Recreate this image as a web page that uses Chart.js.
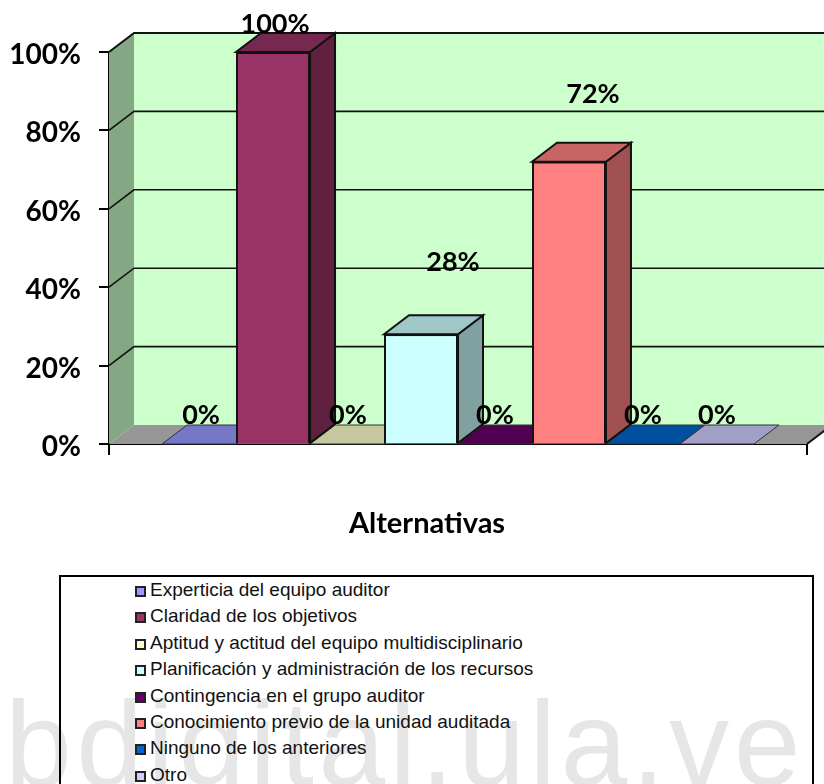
<!DOCTYPE html>
<html lang="es">
<head>
<meta charset="UTF-8">
<title>Alternativas</title>
<style>
    html, body { margin: 0; height: 100%; background: #fff; overflow: hidden; }
    #wrap { position: relative; width: 824px; height: 784px; overflow: hidden; }
    #mark {
        position: absolute; left: 5px; top: 663px; white-space: nowrap;
        font-family: "Liberation Sans", Arial, sans-serif; font-size: 120px; line-height: 160px;
        letter-spacing: 4.4px; color: #e6e6e6;
    }
    canvas { position: absolute; left: 0; top: 0; }
    #legend {
        position: absolute; left: 59px; top: 575px; width: 751px; height: 240px;
        border: 2px solid #000; box-sizing: content-box;
        font-family: "Liberation Sans", Arial, sans-serif; font-size: 19px; color: #111;
    }
    #legend div { position: absolute; left: 74px; height: 20px; line-height: 20px; white-space: nowrap; }
    #legend i {
        display: inline-block; width: 7px; height: 7px; border: 2.5px solid #222;
        margin-right: 4px; vertical-align: -1px;
    }
</style>
</head>
<body>
<div id="wrap">
    <div id="mark">bdigital.ula.ve</div>
    <canvas id="chart" width="824" height="570"></canvas>
    <div id="legend"></div>
</div>
<script src="https://cdn.jsdelivr.net/npm/chart.js"></script>
<script>
const seriesNames = ['Experticia del equipo auditor', 'Claridad de los objetivos', 'Aptitud y actitud del equipo multidisciplinario',
    'Planificación y administración de los recursos', 'Contingencia en el grupo auditor', 'Conocimiento previo de la unidad auditada',
    'Ninguno de los anteriores', 'Otro'];
const seriesValues = [0, 100, 0, 28, 0, 72, 0, 0];
const seriesColors = ['#9999ff', '#993366', '#ffffcc', '#ccffff', '#660066', '#ff8080', '#0066cc', '#ccccff'];
const categories = ['Alternativas'];
const labelShift = [[2, 0], [2, 0], [1, 0], [32, -44], [0, 0], [24, -40], [0, 0], [0, 0]];

const depthX = 25, depthY = 19;

function shade(hex, f) {
    const n = parseInt(hex.slice(1), 16);
    return 'rgb(' + Math.round((n >> 16) * f) + ',' + Math.round(((n >> 8) & 255) * f) + ',' + Math.round((n & 255) * f) + ')';
}

function poly(ctx, pts, fill, stroke, lw) {
    ctx.beginPath();
    pts.forEach((p, i) => i ? ctx.lineTo(p[0], p[1]) : ctx.moveTo(p[0], p[1]));
    ctx.closePath();
    ctx.fillStyle = fill;
    ctx.fill();
    if (stroke) {
        ctx.strokeStyle = stroke;
        ctx.lineWidth = lw;
        ctx.stroke();
    }
}

// the 3D box: walls and floor behind the bars, sides and tops from each bar element
const box3d = {
    id: 'box3d',
    beforeDraw(chart) {
        // tick labels sit a little under their ticks in the original
        chart.scales.y.getLabelItems().forEach(item => { item.options.translation[1] += 3; });
    },
    beforeDatasetsDraw(chart) {
        const ctx = chart.ctx, a = chart.chartArea, y = chart.scales.y;
        ctx.save();
        poly(ctx, [[a.left + depthX, a.top - depthY], [a.right + depthX, a.top - depthY], [a.right + depthX, a.bottom - depthY], [a.left + depthX, a.bottom - depthY]], '#ccffcc');
        poly(ctx, [[a.left, a.top], [a.left + depthX, a.top - depthY], [a.left + depthX, a.bottom - depthY], [a.left, a.bottom]], '#84a884');
        poly(ctx, [[a.left, a.bottom], [a.left + depthX, a.bottom - depthY], [a.right + depthX, a.bottom - depthY], [a.right, a.bottom]], '#969696');
        ctx.strokeStyle = '#111';
        y.ticks.forEach(t => {
            if (t.value === 0) return;
            const py = y.getPixelForValue(t.value);
            ctx.lineWidth = t.value === 100 ? 2 : 1.6;
            ctx.beginPath();
            ctx.moveTo(a.left, py);
            ctx.lineTo(a.left + depthX, py - depthY);
            ctx.lineTo(a.right + depthX, py - depthY);
            ctx.stroke();
        });
        ctx.lineWidth = 2;
        ctx.beginPath();
        ctx.moveTo(a.right, a.bottom);
        ctx.lineTo(a.right + depthX, a.bottom - depthY);
        ctx.stroke();
        chart.data.datasets.forEach((ds, i) => {
            const bar = chart.getDatasetMeta(i).data[0];
            const l = bar.x - bar.width / 2, r = bar.x + bar.width / 2;
            poly(ctx, [[l, bar.base], [l + depthX, bar.base - depthY], [r + depthX, bar.base - depthY], [r, bar.base]], shade(seriesColors[i], 0.78), '#333', 1);
        });
        ctx.restore();
    },
    afterDatasetsDraw(chart) {
        const ctx = chart.ctx;
        ctx.save();
        chart.data.datasets.forEach((ds, i) => {
            if (!ds.data[0]) return;
            const bar = chart.getDatasetMeta(i).data[0];
            const l = bar.x - bar.width / 2, r = bar.x + bar.width / 2;
            poly(ctx, [[r, bar.y], [r + depthX, bar.y - depthY], [r + depthX, bar.base - depthY], [r, bar.base]], shade(seriesColors[i], 0.63), '#111', 2);
            poly(ctx, [[l, bar.y], [l + depthX, bar.y - depthY], [r + depthX, bar.y - depthY], [r, bar.y]], shade(seriesColors[i], 0.78), '#111', 2);
        });
        // value labels
        ctx.fillStyle = '#000';
        ctx.font = 'bold 27px Lato, sans-serif';
        ctx.textAlign = 'center';
        ctx.textBaseline = 'alphabetic';
        chart.data.datasets.forEach((ds, i) => {
            const bar = chart.getDatasetMeta(i).data[0];
            ctx.fillText(ds.data[0] + '%', bar.x + labelShift[i][0], bar.y - 19 + labelShift[i][1] + (ds.data[0] ? 0 : -1));
        });
        // axis title sits left of the plot centre in the original
        const a = chart.chartArea;
        ctx.font = 'bold 29px Lato, sans-serif';
        ctx.fillText(categories[0], (a.left + a.right) / 2 - 31, 533);
        ctx.restore();
    }
};

new Chart(document.getElementById('chart'), {
    type: 'bar',
    data: {
        labels: categories,
        datasets: seriesNames.map((name, i) => ({
            label: name,
            data: [seriesValues[i]],
            backgroundColor: seriesColors[i],
            borderColor: '#111',
            borderWidth: 2,
            categoryPercentage: 0.848,
            barPercentage: 1
        }))
    },
    options: {
        responsive: false,
        animation: false,
        layout: { padding: { top: 52, right: 17, left: 0, bottom: 0 } },
        plugins: { legend: { display: false }, tooltip: { enabled: false } },
        scales: {
            x: {
                afterFit(scale) { scale.height = 126; },
                ticks: { display: false },
                grid: { drawOnChartArea: false, tickLength: 11, color: '#000', lineWidth: 2 },
                border: { color: '#000', width: 2 }
            },
            y: {
                min: 0,
                max: 100,
                afterFit(scale) { scale.width = 109; },
                ticks: {
                    stepSize: 20,
                    padding: 18,
                    color: '#000',
                    font: { family: 'Lato, sans-serif', size: 28, weight: 'bold' },
                    callback: v => v + '%'
                },
                grid: { drawOnChartArea: false, tickLength: 10, color: '#000', lineWidth: 2 },
                border: { color: '#000', width: 2 }
            }
        }
    },
    plugins: [box3d]
});

const legendBox = document.getElementById('legend');
seriesNames.forEach((name, i) => {
    const row = document.createElement('div');
    row.style.top = (3 + i * 26.4) + 'px';
    const swatch = document.createElement('i');
    swatch.style.background = seriesColors[i];
    row.appendChild(swatch);
    row.appendChild(document.createTextNode(name));
    legendBox.appendChild(row);
});
</script>
</body>
</html>
